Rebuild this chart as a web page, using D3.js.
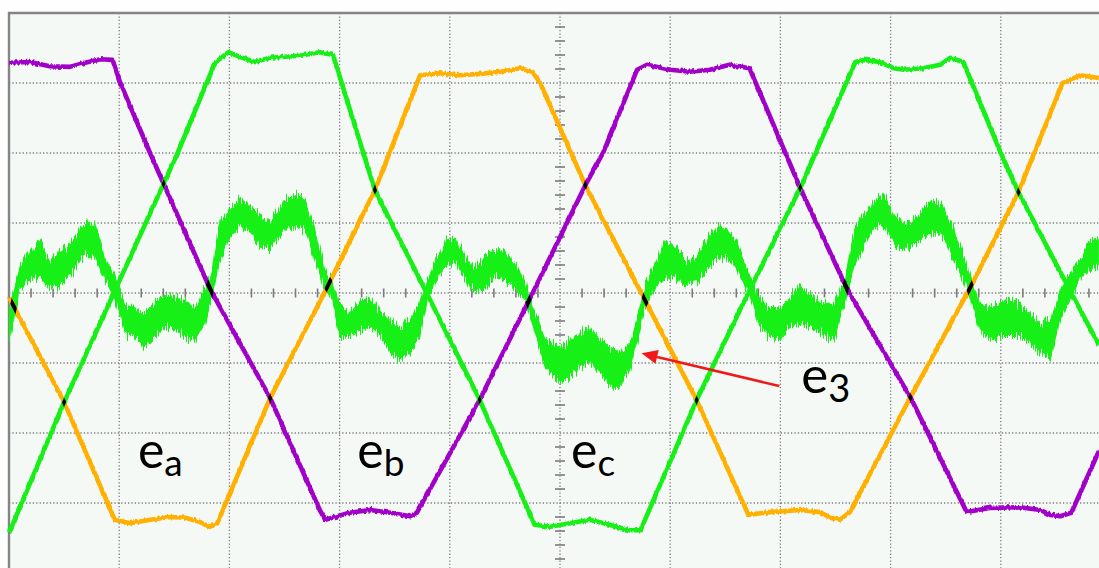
<!DOCTYPE html>
<html>
<head>
<meta charset="utf-8">
<script src="https://cdn.jsdelivr.net/npm/d3@7"></script>
<style>
  html, body { margin: 0; padding: 0; background: #fdfefd; overflow: hidden; }
  svg { display: block; }
</style>
</head>
<body>
<svg id="chart" width="1099" height="568"></svg>
<script>
// Time axis in divisions, amplitude in divisions (scope screen 10 x 8).
const gridCols = [1, 2, 3, 4, 5, 6, 7, 8, 9];
const gridRows = [-3, -2, -1, 0, 1, 2, 3];

// Phase A back-EMF (orange)
const eaTime = [0, 0.50, 0.96, 1.10, 1.28, 1.46, 1.60, 1.73, 1.82, 1.89, 2.37, 2.89, 3.32, 3.73, 3.91, 4.09, 4.27, 4.46, 4.64, 4.75, 4.82, 5.23, 5.77, 6.24, 6.71, 6.90, 7.18, 7.36, 7.45, 7.54, 7.63, 8.18, 8.71, 9.16, 9.56, 9.72, 9.89];
const eaVolt = [-0.06, -1.56, -3.24, -3.29, -3.24, -3.20, -3.21, -3.27, -3.34, -3.29, -1.50, 0.09, 1.47, 3.11, 3.14, 3.11, 3.13, 3.16, 3.21, 3.16, 3.00, 1.54, -0.10, -1.53, -3.17, -3.13, -3.10, -3.13, -3.21, -3.24, -3.13, -1.49, 0.04, 1.44, 3.00, 3.11, 3.07];

// Phase B back-EMF (purple)
const ebTime = [0, 0.19, 0.37, 0.55, 0.69, 0.83, 0.94, 1.01, 1.28, 1.42, 1.83, 2.37, 2.82, 2.87, 3.09, 3.28, 3.46, 3.64, 3.70, 4.27, 4.73, 5.23, 5.39, 5.70, 5.79, 6.00, 6.18, 6.36, 6.54, 6.72, 7.18, 7.61, 8.18, 8.69, 8.90, 9.17, 9.36, 9.45, 9.54, 9.64, 9.89];
const ebVolt = [3.29, 3.30, 3.24, 3.23, 3.29, 3.34, 3.33, 3.00, 2.00, 1.50, 0.04, -1.50, -3.10, -3.24, -3.14, -3.10, -3.14, -3.19, -3.14, -1.53, -0.07, 1.54, 2.00, 3.19, 3.26, 3.19, 3.16, 3.19, 3.26, 3.21, 1.50, 0.04, -1.49, -3.13, -3.07, -3.06, -3.10, -3.17, -3.19, -3.14, -2.26];

// Phase C back-EMF (green)
const ecTime = [0, 0.50, 1.53, 1.87, 1.99, 2.10, 2.23, 2.37, 2.64, 2.82, 2.94, 3.32, 3.79, 4.26, 4.77, 4.91, 5.09, 5.27, 5.45, 5.63, 5.73, 6.24, 6.72, 7.18, 7.68, 7.76, 7.90, 8.03, 8.12, 8.30, 8.45, 8.54, 8.66, 9.00, 9.16, 9.64, 9.89];
const ecVolt = [-3.43, -1.56, 2.00, 3.29, 3.44, 3.37, 3.30, 3.36, 3.39, 3.44, 3.40, 1.47, 0.00, -1.49, -3.31, -3.34, -3.29, -3.24, -3.31, -3.39, -3.39, -1.53, 0.04, 1.50, 3.30, 3.33, 3.30, 3.21, 3.19, 3.21, 3.26, 3.36, 3.30, 2.00, 1.44, 0.00, -0.74];

// Third-harmonic component e3: upper / lower edge of the noisy trace
const e3Time = [0.00, 0.05, 0.10, 0.19, 0.28, 0.37, 0.46, 0.55, 0.69, 0.78, 0.87, 0.96, 1.05, 1.14, 1.23, 1.32, 1.42, 1.51, 1.60, 1.69, 1.78, 1.84, 1.91, 2.01, 2.10, 2.19, 2.28, 2.37, 2.50, 2.60, 2.69, 2.78, 2.87, 2.93, 3.00, 3.09, 3.19, 3.28, 3.37, 3.46, 3.55, 3.64, 3.73, 3.80, 3.87, 3.96, 4.05, 4.14, 4.23, 4.32, 4.41, 4.50, 4.59, 4.68, 4.77, 4.86, 5.00, 5.09, 5.18, 5.27, 5.36, 5.45, 5.54, 5.64, 5.71, 5.77, 5.86, 5.95, 6.04, 6.13, 6.23, 6.32, 6.41, 6.50, 6.59, 6.68, 6.74, 6.81, 6.91, 7.00, 7.09, 7.18, 7.27, 7.36, 7.49, 7.58, 7.67, 7.76, 7.85, 7.94, 8.03, 8.12, 8.21, 8.30, 8.39, 8.48, 8.58, 8.67, 8.72, 8.81, 8.90, 8.99, 9.08, 9.17, 9.26, 9.36, 9.45, 9.54, 9.63, 9.72, 9.81, 9.89];
const e3Upper = [-0.24, 0.11, 0.40, 0.61, 0.76, 0.47, 0.61, 0.71, 1.00, 1.04, 0.51, 0.26, -0.14, -0.20, -0.29, -0.14, 0.00, -0.06, -0.10, -0.20, 0.09, 0.33, 1.00, 1.23, 1.37, 1.23, 1.09, 1.04, 1.33, 1.43, 1.33, 0.90, 0.33, 0.19, -0.14, -0.29, -0.10, -0.06, -0.24, -0.39, -0.49, -0.39, -0.10, 0.19, 0.51, 0.76, 0.80, 0.51, 0.37, 0.51, 0.61, 0.61, 0.43, 0.19, -0.24, -0.63, -0.77, -0.67, -0.57, -0.49, -0.63, -0.77, -0.86, -0.67, -0.29, 0.11, 0.43, 0.71, 0.71, 0.47, 0.51, 0.76, 0.94, 0.94, 0.76, 0.43, 0.21, -0.06, -0.20, -0.20, -0.06, 0.14, 0.00, -0.14, -0.14, 0.19, 0.90, 1.14, 1.33, 1.43, 1.09, 1.00, 1.04, 1.23, 1.33, 1.23, 0.90, 0.51, 0.26, -0.14, -0.20, -0.14, -0.06, -0.14, -0.29, -0.43, -0.39, 0.04, 0.30, 0.51, 0.76, 0.80];
const e3Lower = [-0.74, -0.39, 0.04, 0.19, 0.23, 0.04, 0.09, 0.23, 0.57, 0.47, 0.19, -0.10, -0.57, -0.63, -0.77, -0.63, -0.49, -0.53, -0.63, -0.67, -0.43, -0.10, 0.43, 0.80, 0.94, 0.86, 0.66, 0.61, 0.90, 0.94, 0.90, 0.43, 0.04, -0.10, -0.63, -0.63, -0.53, -0.49, -0.63, -0.86, -0.96, -0.86, -0.63, -0.10, 0.14, 0.37, 0.43, 0.19, 0.00, 0.09, 0.23, 0.19, 0.04, -0.10, -0.57, -1.06, -1.29, -1.20, -1.06, -1.00, -1.14, -1.34, -1.34, -1.10, -0.67, -0.24, 0.04, 0.19, 0.23, 0.09, 0.14, 0.29, 0.47, 0.51, 0.37, 0.09, -0.13, -0.49, -0.63, -0.67, -0.49, -0.43, -0.49, -0.57, -0.67, -0.20, 0.37, 0.66, 0.94, 0.94, 0.71, 0.61, 0.66, 0.80, 0.86, 0.80, 0.43, 0.14, -0.10, -0.53, -0.67, -0.63, -0.63, -0.63, -0.71, -0.86, -0.96, -0.39, -0.10, 0.19, 0.33, 0.37];

// Trace names drawn on the screen
const traceNames = ["a", "b", "c"];
const harmonicName = "3";

const W = 1099, H = 568;
const x = d3.scaleLinear().domain([0, 10]).range([9, 1111]);
const y = d3.scaleLinear().domain([-4, 4]).range([573, 13]);

const colors = { a: "#ffb000", b: "#a000c8", c: "#14f014", e3: "#14f014" };

const svg = d3.select("#chart");
const defs = svg.append("defs");

// Noise filter: vertical-only jitter, like the scope's sampled trace
function addJitter(id, scale, fx, fy, seed) {
  const f = defs.append("filter").attr("id", id)
    .attr("filterUnits", "userSpaceOnUse")
    .attr("x", 0).attr("y", 0).attr("width", W).attr("height", H);
  f.append("feTurbulence").attr("type", "fractalNoise")
    .attr("baseFrequency", fx + " " + fy).attr("numOctaves", 2)
    .attr("seed", seed).attr("result", "noise");
  f.append("feColorMatrix").attr("in", "noise").attr("type", "matrix")
    .attr("values", "1 0 0 0 0  0 0 0 0 0.5  0 0 0 0 0  0 0 0 0 1")
    .attr("result", "map");
  f.append("feDisplacementMap").attr("in", "SourceGraphic").attr("in2", "map")
    .attr("scale", scale).attr("xChannelSelector", "G").attr("yChannelSelector", "R");
}
addJitter("bandNoise", 20, 0.8, 0.03, 4);
addJitter("lineNoise", 4, 0.45, 0.08, 9);

// screen background
svg.append("rect")
  .attr("x", x(0)).attr("y", y(4))
  .attr("width", x(10) - x(0)).attr("height", y(-4) - y(4))
  .attr("fill", "#f5f9f6");

// dotted graticule
const grid = svg.append("g").attr("stroke", "#7d7d7d").attr("stroke-width", 1.3)
  .attr("stroke-dasharray", "1.3 2.1");
grid.selectAll("line.col").data(gridCols).join("line").attr("class", "col")
  .attr("x1", d => x(d)).attr("x2", d => x(d)).attr("y1", y(4)).attr("y2", y(-4));
grid.selectAll("line.row").data(gridRows).join("line").attr("class", "row")
  .attr("y1", d => y(d)).attr("y2", d => y(d)).attr("x1", x(0)).attr("x2", x(10));

// minor ticks on the centre axes
const notWhole = d => Math.abs(d - Math.round(d)) > 0.01;
const tickX = d3.range(0.2, 10, 0.2).filter(notWhole);
const tickY = d3.range(-3.8, 4, 0.2).filter(notWhole);
const ticks = svg.append("g").attr("stroke", "#7a7a7a").attr("stroke-width", 1.6);
ticks.selectAll("line.tx").data(tickX).join("line").attr("class", "tx")
  .attr("x1", d => x(d)).attr("x2", d => x(d)).attr("y1", y(0) - 4.5).attr("y2", y(0) + 4.5);
ticks.selectAll("line.ty").data(tickY).join("line").attr("class", "ty")
  .attr("y1", d => y(d)).attr("y2", d => y(d)).attr("x1", x(5) - 5).attr("x2", x(5) + 5);

// screen frame (left and top edges are in view)
svg.append("path")
  .attr("d", `M${x(0)},${y(-4)}V${y(4)}H${x(10)}`)
  .attr("fill", "none").attr("stroke", "#858585").attr("stroke-width", 2.4);

// traces
const zip = (t, v) => t.map((d, i) => [d, v[i]]);
const line = d3.line().x(d => x(d[0])).y(d => y(d[1]));
const band = d3.area().x(d => x(d[0])).y0(d => y(d[2])).y1(d => y(d[1]));

const phases = [
  { key: "a", pts: zip(eaTime, eaVolt) },
  { key: "b", pts: zip(ebTime, ebVolt) },
  { key: "c", pts: zip(ecTime, ecVolt) }
];
const e3Pts = e3Time.map((t, i) => [t, e3Upper[i], e3Lower[i]]);

const traces = svg.append("g");
traces.append("path").attr("d", band(e3Pts))
  .attr("fill", colors.e3).attr("filter", "url(#bandNoise)");

const lineG = traces.append("g").attr("filter", "url(#lineNoise)");
lineG.selectAll("path").data(phases).join("path")
  .attr("d", d => line(d.pts))
  .attr("fill", "none").attr("stroke", d => colors[d.key])
  .attr("stroke-width", 4.6).attr("stroke-linejoin", "round");

// where two differently coloured traces overlap, the scope draws black
function addMask(id, drawFn) {
  const m = defs.append("mask").attr("id", id).attr("maskUnits", "userSpaceOnUse")
    .attr("x", 0).attr("y", 0).attr("width", W).attr("height", H);
  drawFn(m);
}
phases.forEach(p => addMask("m-" + p.key, m => m.append("path").attr("d", line(p.pts))
  .attr("fill", "none").attr("stroke", "#fff").attr("stroke-width", 3.6)));
addMask("m-e3", m => m.append("path").attr("d", band(e3Pts)).attr("fill", "#fff"));

const overlapPairs = [["a", "b"], ["a", "c"], ["b", "c"], ["a", "e3"], ["b", "e3"]];
const byKey = Object.fromEntries(phases.map(p => [p.key, p]));
const overlaps = traces.append("g");
overlapPairs.forEach(([k1, k2]) => {
  overlaps.append("path").attr("d", line(byKey[k1].pts))
    .attr("fill", "none").attr("stroke", "#000").attr("stroke-width", 4)
    .attr("mask", `url(#m-${k2})`);
});

// labels
const font = "Lato, 'Open Sans', sans-serif";
const labelAt = [1.17, 3.16, 5.10];
const labels = svg.append("g").attr("font-family", font).attr("fill", "#000");
traceNames.forEach((n, i) => {
  const t = labels.append("text").attr("x", x(labelAt[i])).attr("y", y(-2.5))
    .attr("font-size", 50);
  t.append("tspan").text("e");
  t.append("tspan").attr("font-size", 37).attr("dy", 8).text(n);
});
const e3Label = labels.append("text").attr("x", x(7.19)).attr("y", y(-1.43)).attr("font-size", 51);
e3Label.append("tspan").text("e");
e3Label.append("tspan").attr("font-size", 38).attr("dy", 9).text(harmonicName);

// pointer from the e3 label to its trace
const tail = [x(6.99), y(-1.33)], tip = [x(5.74), y(-0.86)];
const ang = Math.atan2(tip[1] - tail[1], tip[0] - tail[0]);
const headLen = 16, headHalf = 7;
const base = [tip[0] - headLen * Math.cos(ang), tip[1] - headLen * Math.sin(ang)];
svg.append("line")
  .attr("x1", tail[0]).attr("y1", tail[1]).attr("x2", base[0]).attr("y2", base[1])
  .attr("stroke", "#f01818").attr("stroke-width", 2.6);
svg.append("path")
  .attr("d", d3.line()([
    tip,
    [base[0] + headHalf * Math.sin(ang), base[1] - headHalf * Math.cos(ang)],
    [base[0] - headHalf * Math.sin(ang), base[1] + headHalf * Math.cos(ang)]
  ]) + "Z")
  .attr("fill", "#f01818");
</script>
</body>
</html>
